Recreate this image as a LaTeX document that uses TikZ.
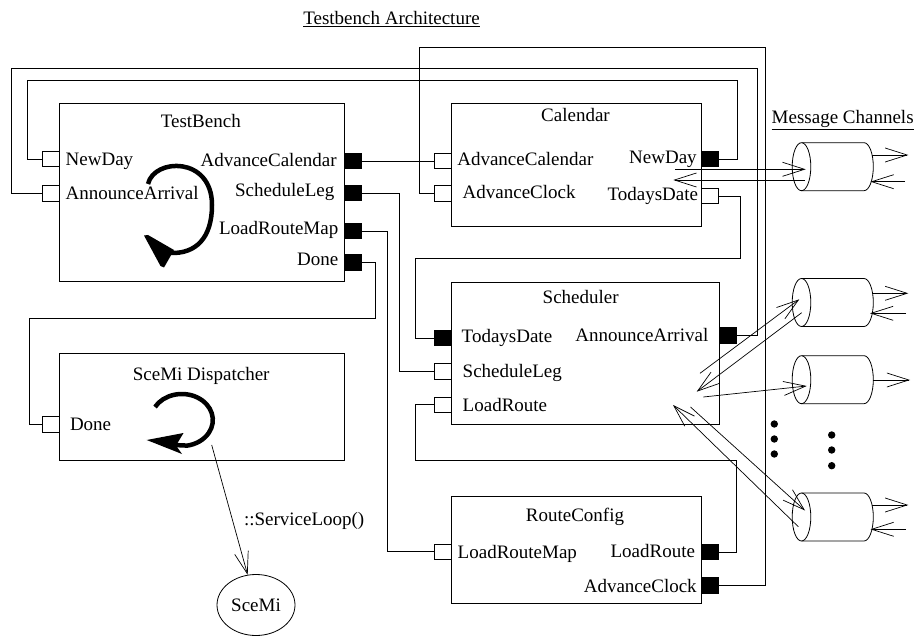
\documentclass[tikz,border=0pt]{standalone}
\usepackage{fontspec}
\setmainfont{Liberation Serif}
\usetikzlibrary{arrows.meta,shapes.geometric}
\begin{document}
\begin{tikzpicture}[x=1pt,y=-1pt,line width=0.8pt,
  font=\fontsize{19}{22}\selectfont,
  box/.style={draw, rectangle, inner sep=0, outer sep=0, anchor=north west},
  port/.style={draw, fill=white, rectangle, minimum width=17, minimum height=15.5, inner sep=0, outer sep=0},
  fport/.style={port, fill=black},
  lbl/.style={inner sep=0, outer sep=0},
  wire/.style={line width=0.8pt},
  msg/.style={-{Straight Barb[length=22pt,width=14pt]}, line width=0.7pt},
  loopline/.style={line width=4.5pt},
  chan/.style={line width=0.8pt}
]
\useasboundingbox (0,0) rectangle (918,636);

% titles
\node[lbl, anchor=base west] (title) at (303.3,25) {\underline{Testbench Architecture}};
\node[lbl, anchor=base west] (mctitle) at (771.7,123.3) {\underline{Message Channels}};

% boxes
\node[box, minimum width=285, minimum height=178.4] (tb) at (59.3,103.3) {};
\node[box, minimum width=250, minimum height=122.7] (cal) at (451,103.3) {};
\node[box, minimum width=268, minimum height=141.6] (sch) at (451,282.7) {};
\node[box, minimum width=285, minimum height=107.4] (disp) at (59.3,353.3) {};
\node[box, minimum width=250, minimum height=106.6] (rc) at (451,496.7) {};

% box titles
\node[lbl, anchor=base] (tbT) at (200.8,128) {TestBench};
\node[lbl, anchor=base] (calT) at (575.5,121.7) {Calendar};
\node[lbl, anchor=base] (schT) at (580.7,304) {Scheduler};
\node[lbl, anchor=base] (dispT) at (201.2,380) {SceMi Dispatcher};
\node[lbl, anchor=base] (rcT) at (575,521.5) {RouteConfig};

% ports
\node[port, anchor=east] (tbNewDay) at (59.3,159) {};
\node[port, anchor=east] (tbAnnounce) at (59.3,193.3) {};
\node[fport, anchor=west] (tbAdvCal) at (344.3,161) {};
\node[fport, anchor=west] (tbSchedLeg) at (344.3,193) {};
\node[fport, anchor=west] (tbLoadMap) at (344.3,231) {};
\node[fport, anchor=west] (tbDone) at (344.3,262.5) {};

\node[port, anchor=east] (calAdvCal) at (451,161) {};
\node[port, anchor=east] (calAdvClock) at (451,193.5) {};
\node[fport, anchor=west] (calNewDay) at (701,159) {};
\node[port, anchor=west] (calToday) at (701,196) {};

\node[fport, anchor=east] (schToday) at (451,338) {};
\node[port, anchor=east] (schSchedLeg) at (451,371.3) {};
\node[port, anchor=east] (schLoadRoute) at (451,404.7) {};
\node[fport, anchor=west] (schAnnounce) at (719,335.5) {};

\node[port, anchor=east] (dispDone) at (59.3,424.3) {};

\node[port, anchor=east] (rcLoadMap) at (451,551.7) {};
\node[fport, anchor=west] (rcLoadRoute) at (701,552) {};
\node[fport, anchor=west] (rcAdvClock) at (701,585.3) {};

% port labels
\node[lbl, anchor=base west] (tbNewDayL) at (65.7,166) {NewDay};
\node[lbl, anchor=base west] (tbAnnounceL) at (65.7,200) {AnnounceArrival};
\node[lbl, anchor=base east] (tbAdvCalL) at (336.7,166.5) {AdvanceCalendar};
\node[lbl, anchor=base east] (tbSchedLegL) at (334.3,197) {ScheduleLeg};
\node[lbl, anchor=base east] (tbLoadMapL) at (338.3,234.5) {LoadRouteMap};
\node[lbl, anchor=base east] (tbDoneL) at (338.3,266) {Done};

\node[lbl, anchor=base west] (calAdvCalL) at (457.3,165.5) {AdvanceCalendar};
\node[lbl, anchor=base west] (calAdvClockL) at (462.7,198.7) {AdvanceClock};
\node[lbl, anchor=base east] (calNewDayL) at (696.7,163.8) {NewDay};
\node[lbl, anchor=base east] (calTodayL) at (698,200.8) {TodaysDate};

\node[lbl, anchor=base west] (schTodayL) at (461.7,342.5) {TodaysDate};
\node[lbl, anchor=base west] (schSchedLegL) at (462.7,377.8) {ScheduleLeg};
\node[lbl, anchor=base west] (schLoadRouteL) at (462.7,411.5) {LoadRoute};
\node[lbl, anchor=base east] (schAnnounceL) at (708.3,341.5) {AnnounceArrival};

\node[lbl, anchor=base west] (dispDoneL) at (70,430) {Done};

\node[lbl, anchor=base west] (rcLoadMapL) at (457.7,558) {LoadRouteMap};
\node[lbl, anchor=base east] (rcLoadRouteL) at (695,557) {LoadRoute};
\node[lbl, anchor=base east] (rcAdvClockL) at (696.7,592.5) {AdvanceClock};

% wires
\draw[wire] (tbNewDay.west) -- (27.3,159) -- (27.3,80.7) -- (737.3,80.7) -- (737.3,159) -- (calNewDay.east);
\draw[wire] (tbAnnounce.west) -- (11,193.3) -- (11,68.3) -- (757.3,68.3) -- (757.3,335.5) -- (schAnnounce.east);
\draw[wire] (tbAdvCal.east) -- (calAdvCal.west);
\draw[wire] (tbSchedLeg.east) -- (399,193) -- (399,371.3) -- (schSchedLeg.west);
\draw[wire] (tbLoadMap.east) -- (387,231) -- (387,551.7) -- (rcLoadMap.west);
\draw[wire] (tbDone.east) -- (375.7,262.5) -- (375.7,318.3) -- (29,318.3) -- (29,424.3) -- (dispDone.west);
\draw[wire] (calAdvClock.west) -- (419,193.5) -- (419,47.7) -- (765.3,47.7) -- (765.3,585.3) -- (rcAdvClock.east);
\draw[wire] (calToday.east) -- (740,196) -- (740,258.3) -- (415.5,258.3) -- (415.5,338) -- (schToday.west);
\draw[wire] (rcLoadRoute.east) -- (736,552) -- (736,460.7) -- (415.5,460.7) -- (415.5,404.7) -- (schLoadRoute.west);

% message channels (cylinders)
\foreach \cy in {166.7,302.5,379.7,517} {
  \draw[chan] (801.5,\cy) ellipse [x radius=9.3pt, y radius=24pt];
  \draw[chan] (801.5,\cy-24) -- (864,\cy-24) arc[start angle=90,end angle=-90,x radius=9.3pt,y radius=24pt] -- (801.5,\cy+24);
}

% channel end points
\coordinate (c1o) at (872.2,155);   \coordinate (c1oe) at (908.3,155);
\coordinate (c1ie) at (905,181.7);  \coordinate (c1i) at (870.5,181.7);
\coordinate (c2o) at (872.6,293.3); \coordinate (c2oe) at (908.3,293.3);
\coordinate (c2ie) at (906,313.3);  \coordinate (c2i) at (870,313.3);
\coordinate (c3o) at (873.3,380);   \coordinate (c3oe) at (910,380);
\coordinate (c4o) at (872.2,505);   \coordinate (c4oe) at (908.3,505);
\coordinate (c4ie) at (906,529.3);  \coordinate (c4i) at (870.5,529.3);
\draw[msg] (c1o) -- (c1oe);
\draw[msg] (c1ie) -- (c1i);
\draw[msg] (c2o) -- (c2oe);
\draw[msg] (c2ie) -- (c2i);
\draw[msg] (c3o) -- (c3oe);
\draw[msg] (c4o) -- (c4oe);
\draw[msg] (c4ie) -- (c4i);

% calendar <-> channel 1
\coordinate (k1a) at (675,169.3);   \coordinate (k1b) at (805.7,169.3);
\coordinate (k2a) at (805,180);     \coordinate (k2b) at (673.3,180);
\draw[msg] (k1a) -- (k1b);
\draw[msg] (k2a) -- (k2b);

% scheduler <-> channels
\coordinate (a1s) at (700,373.3);   \coordinate (a1e) at (799.3,299.3);
\coordinate (a2s) at (801.7,312.7); \coordinate (a2e) at (696.7,391.7);
\coordinate (a3s) at (703.3,397);   \coordinate (a3e) at (806.7,386);
\coordinate (a4s) at (690.5,407);   \coordinate (a4e) at (805,510.5);
\coordinate (a5s) at (798.3,526.7); \coordinate (a5e) at (673,405);
\draw[msg] (a1s) -- (a1e);
\draw[msg] (a2s) -- (a2e);
\draw[msg] (a3s) -- (a3e);
\draw[msg] (a4s) -- (a4e);
\draw[msg] (a5s) -- (a5e);

% dots
\foreach \p in {(774.3,424),(774.3,439),(774.3,454),(831.7,435),(831.7,450),(831.7,465.7)}
  \fill \p circle[radius=3.7pt];

% loops
\draw[loopline] (148,184) .. controls (154,158) and (212,156) .. (212,205) .. controls (212,238) and (196,254) .. (170,253);
\fill (144,235.5) -- (148,235) -- (174,250) -- (164,267.5) -- (160.5,266) -- cycle;
\draw[loopline] (155,407) arc[start angle=150,end angle=-80,x radius=31pt,y radius=26pt] -- (174,445);
\fill (146.7,440) -- (183.5,433) -- (176,445.5) -- (182,454) -- cycle;

% SceMi
\node[ellipse, draw, minimum width=78, minimum height=61, inner sep=0] (scemi) at (256,605) {SceMi};
\coordinate (svc) at (211.7,445);
\draw[msg] (svc) -- (scemi);
\node[lbl, anchor=base west] (svcL) at (244,525) {::ServiceLoop()};
\end{tikzpicture}
\end{document}
